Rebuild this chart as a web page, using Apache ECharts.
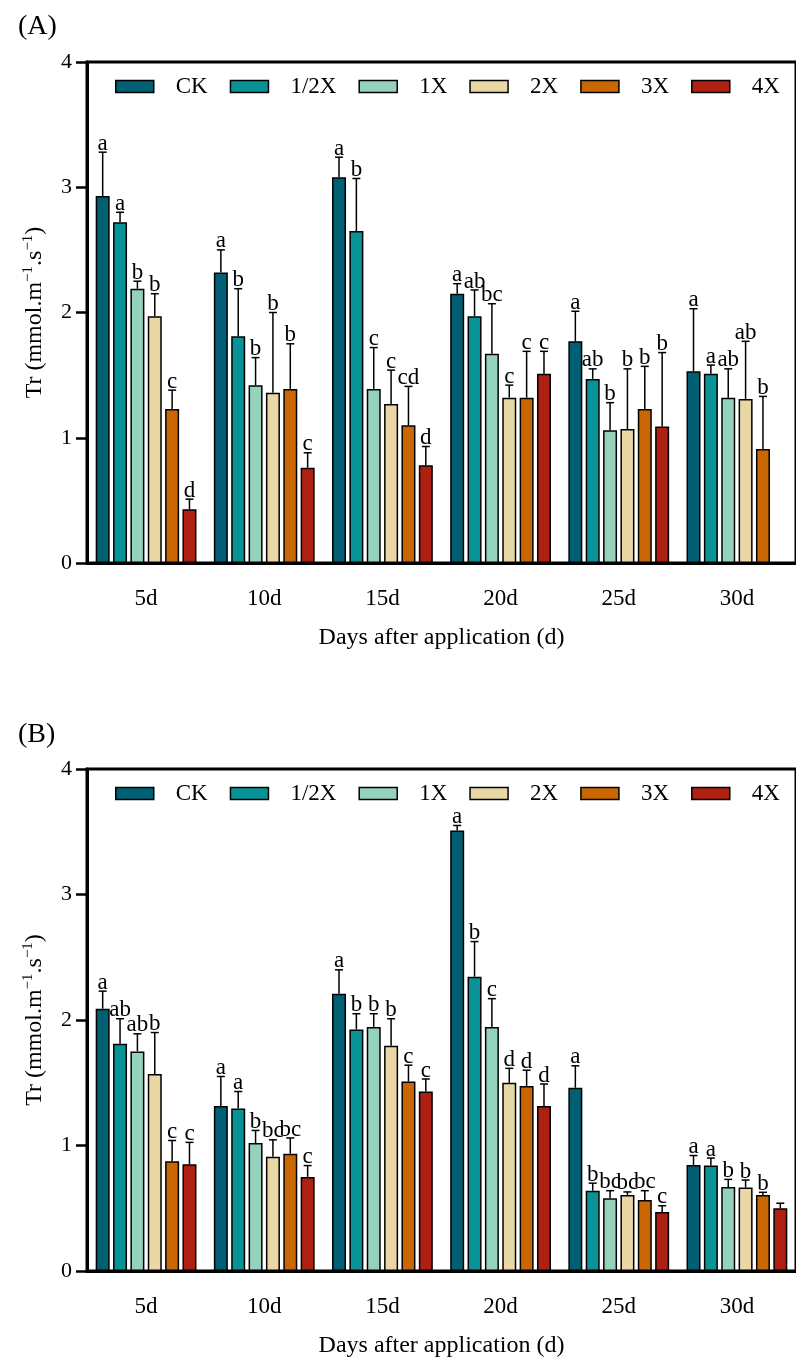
<!DOCTYPE html>
<html>
<head>
<meta charset="utf-8">
<script src="https://cdn.jsdelivr.net/npm/echarts@6/dist/echarts.min.js"></script>
<style>
  html, body { margin: 0; padding: 0; background: #fff; }
  #main { width: 796px; height: 1360px; }
</style>
</head>
<body>
<div id="main"></div>
<script>
// categories and treatments
const days = ['5d', '10d', '15d', '20d', '25d', '30d'];
const treatments = ['CK', '1/2X', '1X', '2X', '3X', '4X'];
const colors = ['#005f73', '#0a9396', '#94d2bd', '#e9d8a6', '#ca6702', '#ae2012'];
const yTicks = [0, 1, 2, 3, 4];

// panel A means / sd / letters
const aCK   = [2.93, 2.32, 3.08, 2.15, 1.77, 1.53];
const aHalf = [2.72, 1.81, 2.65, 1.97, 1.47, 1.51];
const a1X   = [2.19, 1.42, 1.39, 1.67, 1.06, 1.32];
const a2X   = [1.97, 1.36, 1.27, 1.32, 1.07, 1.31];
const a3X   = [1.23, 1.39, 1.10, 1.32, 1.23, 0.91];
const a4X   = [0.43, 0.76, 0.78, 1.51, 1.09, null];

const aCKsd   = [0.35, 0.18, 0.16, 0.08, 0.24, 0.50];
const aHalfsd = [0.08, 0.38, 0.42, 0.21, 0.08, 0.07];
const a1Xsd   = [0.06, 0.22, 0.33, 0.40, 0.22, 0.23];
const a2Xsd   = [0.18, 0.64, 0.27, 0.10, 0.48, 0.46];
const a3Xsd   = [0.15, 0.36, 0.31, 0.37, 0.34, 0.42];
const a4Xsd   = [0.08, 0.12, 0.15, 0.18, 0.59, null];

const aCKlt   = ['a', 'a', 'a', 'a', 'a', 'a'];
const aHalflt = ['a', 'b', 'b', 'ab', 'ab', 'a'];
const a1Xlt   = ['b', 'b', 'c', 'bc', 'b', 'ab'];
const a2Xlt   = ['b', 'b', 'c', 'c', 'b', 'ab'];
const a3Xlt   = ['c', 'b', 'cd', 'c', 'b', 'b'];
const a4Xlt   = ['d', 'c', 'd', 'c', 'b', ''];

// panel B means / sd / letters
const bCK   = [2.09, 1.315, 2.21, 3.51, 1.46, 0.845];
const bHalf = [1.81, 1.295, 1.925, 2.345, 0.64, 0.84];
const b1X   = [1.75, 1.02, 1.945, 1.945, 0.58, 0.67];
const b2X   = [1.57, 0.91, 1.795, 1.50, 0.605, 0.665];
const b3X   = [0.875, 0.935, 1.51, 1.475, 0.565, 0.605];
const b4X   = [0.85, 0.75, 1.43, 1.315, 0.47, 0.50];

const bCKsd   = [0.14, 0.235, 0.19, 0.04, 0.175, 0.075];
const bHalfsd = [0.20, 0.135, 0.125, 0.28, 0.06, 0.06];
const b1Xsd   = [0.14, 0.10, 0.105, 0.225, 0.06, 0.06];
const b2Xsd   = [0.33, 0.135, 0.215, 0.115, 0.025, 0.06];
const b3Xsd   = [0.165, 0.125, 0.13, 0.125, 0.075, 0.022];
const b4Xsd   = [0.175, 0.09, 0.10, 0.175, 0.05, 0.04];

const bCKlt   = ['a', 'a', 'a', 'a', 'a', 'a'];
const bHalflt = ['ab', 'a', 'b', 'b', 'b', 'a'];
const b1Xlt   = ['ab', 'b', 'b', 'c', 'bc', 'b'];
const b2Xlt   = ['b', 'bc', 'b', 'd', 'bc', 'b'];
const b3Xlt   = ['c', 'bc', 'c', 'd', 'bc', 'b'];
const b4Xlt   = ['c', 'c', 'c', 'd', 'c', ''];

const panels = [
  { means: [aCK, aHalf, a1X, a2X, a3X, a4X], sds: [aCKsd, aHalfsd, a1Xsd, a2Xsd, a3Xsd, a4Xsd], letters: [aCKlt, aHalflt, a1Xlt, a2Xlt, a3Xlt, a4Xlt] },
  { means: [bCK, bHalf, b1X, b2X, b3X, b4X], sds: [bCKsd, bHalfsd, b1Xsd, b2Xsd, b3Xsd, b4Xsd], letters: [bCKlt, bHalflt, b1Xlt, b2Xlt, b3Xlt, b4Xlt] }
];

const FONT = 'Liberation Serif';
const BAR_W = 14;
const BAR_GAP = 0.24;
const PITCH = BAR_W * (1 + BAR_GAP);
const gridTops = [62, 769];
const gridH = [501, 502];

let grids = [], xAxes = [], yAxes = [], legends = [], series = [];

panels.forEach((p, gi) => {
  grids.push({
    left: 87, top: gridTops[gi], width: 718, height: gridH[gi],
    show: true, borderColor: '#000', borderWidth: 3, backgroundColor: 'transparent'
  });
  xAxes.push({
    gridIndex: gi, type: 'category', data: days,
    name: 'Days after application (d)', nameLocation: 'middle', nameGap: 63,
    nameTextStyle: { fontFamily: FONT, fontSize: 24, color: '#000' },
    axisLine: { lineStyle: { color: '#000', width: 3 } },
    axisTick: { alignWithLabel: true, length: 13, lineStyle: { color: '#000', width: 3 } },
    axisLabel: { fontFamily: FONT, fontSize: 23, color: '#000', margin: 24 }
  });
  yAxes.push({
    gridIndex: gi, type: 'value', min: yTicks[0], max: yTicks[yTicks.length - 1], interval: 1,
    name: 'Tr (mmol.m{s|\u22121}.s{s|\u22121})', nameLocation: 'middle', nameGap: 34,
    nameTextStyle: {
      fontFamily: FONT, fontSize: 24, color: '#000', lineHeight: 30,
      rich: { s: { fontFamily: FONT, fontSize: 15, color: '#000', verticalAlign: 'top', lineHeight: 30 } }
    },
    axisLine: { show: true, lineStyle: { color: '#000', width: 3 } },
    axisTick: { show: true, length: 11, lineStyle: { color: '#000', width: 2.5 } },
    axisLabel: { fontFamily: FONT, fontSize: 22, color: '#000', margin: 15 },
    splitLine: { show: false }
  });
  legends.push({
    top: gridTops[gi] + 8, left: 110, width: 700, icon: 'rect',
    itemWidth: 38, itemHeight: 12, itemGap: 22,
    data: treatments,
    selectedMode: false,
    itemStyle: { borderColor: '#000', borderWidth: 1.5 },
    textStyle: { fontFamily: FONT, fontSize: 23, color: '#000', padding: [0, 0, 0, 17] }
  });

  p.means.forEach((m, si) => {
    series.push({
      name: treatments[si], type: 'bar', xAxisIndex: gi, yAxisIndex: gi,
      barWidth: BAR_W, barGap: (BAR_GAP * 100) + '%',
      itemStyle: { color: colors[si], borderColor: '#000', borderWidth: 1.5 },
      data: m,
      silent: true
    });
  });

  // error bars + significance letters
  let errData = [], errLetters = [];
  p.means.forEach((m, si) => {
    m.forEach((v, ci) => {
      if (v == null) return;
      errData.push([ci, v + p.sds[si][ci], si, v]);
      errLetters.push(p.letters[si][ci]);
    });
  });
  series.push({
    type: 'custom', xAxisIndex: gi, yAxisIndex: gi, z: 5, silent: true,
    data: errData,
    renderItem: function (params, api) {
      const ci = api.value(0);
      const base = api.coord([ci, api.value(3)]);
      const tp = api.coord([ci, api.value(1)]);
      const x = base[0] + (api.value(2) - 2.5) * PITCH;
      return {
        type: 'group',
        children: [
          { type: 'line', shape: { x1: x, y1: base[1], x2: x, y2: tp[1] }, style: { stroke: '#000', lineWidth: 1.5 } },
          { type: 'line', shape: { x1: x - 4, y1: tp[1], x2: x + 4, y2: tp[1] }, style: { stroke: '#000', lineWidth: 1.5 } },
          { type: 'text', x: x, y: tp[1] + 3, style: {
              text: errLetters[params.dataIndex], fontFamily: FONT, fontSize: 23, fill: '#000',
              align: 'center', verticalAlign: 'bottom' } }
        ]
      };
    }
  });
});

const chart = echarts.init(document.getElementById('main'));
chart.setOption({
  animation: false,
  backgroundColor: '#fff',
  title: [
    { text: '(A)', left: 13, top: 8, textStyle: { fontFamily: FONT, fontSize: 28, fontWeight: 'normal', color: '#000' } },
    { text: '(B)', left: 13, top: 716, textStyle: { fontFamily: FONT, fontSize: 28, fontWeight: 'normal', color: '#000' } }
  ],
  legend: legends,
  grid: grids,
  xAxis: xAxes,
  yAxis: yAxes,
  series: series
});
</script>
</body>
</html>
